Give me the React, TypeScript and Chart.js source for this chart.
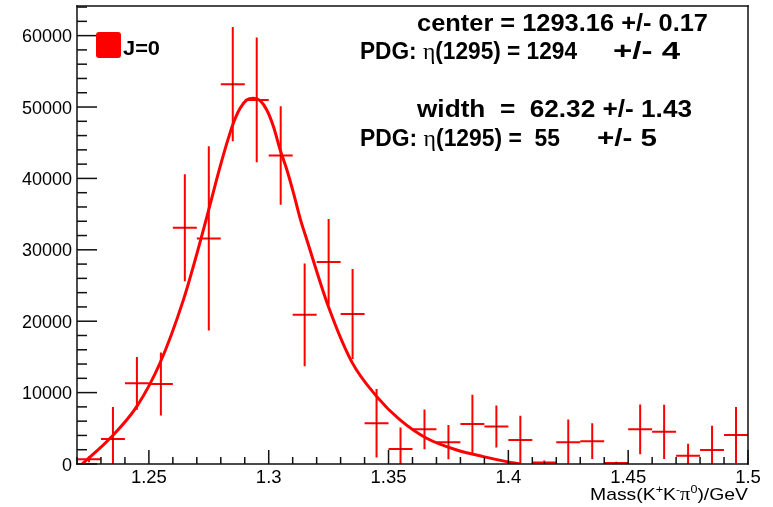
import React, { useEffect, useRef } from 'react';
import { Chart, registerables } from 'chart.js';

Chart.register(...registerables);

// ---------------- data ----------------
const binCenters = [
  1.225, 1.235, 1.245, 1.255, 1.265, 1.275, 1.285, 1.295, 1.305, 1.315,
  1.325, 1.335, 1.345, 1.355, 1.365, 1.375, 1.385, 1.395, 1.405, 1.415,
  1.425, 1.435, 1.445, 1.455, 1.465, 1.475, 1.485, 1.495,
];
const binCounts = [
  650, 3500, 11300, 11200, 33100, 31600, 53200, 51000, 43200, 20900,
  28300, 21000, 5700, 2100, 4850, 3050, 5600, 5250, 3350, 200,
  3050, 3200, 150, 4850, 4500, 1150, 1950, 4050,
];
const binErrors = [
  400, 4500, 3700, 4400, 7500, 12900, 8000, 8750, 6900, 7200,
  6000, 6300, 4800, 3000, 2800, 2400, 4100, 2950, 3400, 300,
  3200, 2500, 150, 3500, 3800, 1700, 3400, 3950,
];
const BIN_WIDTH = 0.01;

const fitMass = [
  1.2222, 1.2338, 1.2449, 1.2546, 1.2644, 1.2713, 1.2741, 1.2783, 1.2825, 1.2852,
  1.288, 1.2908, 1.2936, 1.2964, 1.2992, 1.302, 1.3048, 1.3076, 1.3103, 1.3131,
  1.3159, 1.3249, 1.3346, 1.3451, 1.3548, 1.3659, 1.3785, 1.3896, 1.3993, 1.405,
];
const fitCounts = [
  0, 3600, 8030, 14110, 22990, 31000, 34500, 39900, 44900, 47700,
  49800, 50980, 51220, 50880, 49580, 47240, 43980, 41180, 38000, 34410,
  31400, 22050, 14340, 9440, 6170, 3600, 1960, 1030, 330, 0,
];

const xMajorTicks = [1.25, 1.3, 1.35, 1.4, 1.45, 1.5];
const xTickLabels = ['1.25', '1.3', '1.35', '1.4', '1.45', '1.5'];
const yMajorTicks = [0, 10000, 20000, 30000, 40000, 50000, 60000];
const yTickLabels = ['0', '10000', '20000', '30000', '40000', '50000', '60000'];
const X_MIN = 1.22;
const X_MAX = 1.5;
const Y_MIN = 0;
const Y_MAX = 64150;
const X_MINOR_STEP = 0.01;
const Y_MINOR_STEP = 2000;

const legendLabel = 'J=0';
const statCenter = 'center = 1293.16 +/- 0.17';
const pdgMassLeft = '(1295) = 1294';
const pdgMassErr = '+/- 4';
const statWidth = 'width  =  62.32 +/- 1.43';
const pdgWidthLeft = '(1295) =  55';
const pdgWidthErr = '+/- 5';

// ---------------- drawing helpers ----------------
const SANS = '"Liberation Sans", Arial, Helvetica, sans-serif';
const SERIF = '"Liberation Serif", "Times New Roman", serif';
const BOLD = `bold 23px ${SANS}`;
const GREEK = `24px ${SERIF}`;

type Piece = { t: string; font: string; dy?: number };

function drawPieces(
  ctx: CanvasRenderingContext2D,
  pieces: Piece[],
  left: number,
  baseline: number,
  width: number
) {
  let total = 0;
  const ws = pieces.map((p) => {
    ctx.font = p.font;
    const w = ctx.measureText(p.t).width;
    total += w;
    return w;
  });
  const sx = width / total;
  ctx.save();
  ctx.translate(left, baseline);
  ctx.scale(sx, 1);
  ctx.textBaseline = 'alphabetic';
  ctx.textAlign = 'left';
  let cx = 0;
  pieces.forEach((p, i) => {
    ctx.font = p.font;
    ctx.fillText(p.t, cx, p.dy || 0);
    cx += ws[i];
  });
  ctx.restore();
}

function drawFrameAndTicks(chart: any) {
  const { ctx, chartArea: a } = chart;
  const xs = chart.scales.x;
  const ys = chart.scales.y;
  const W = 1.5;
  ctx.save();
  ctx.fillStyle = '#111';
  const L = a.left - W / 2;
  const Rr = a.right - W / 2;
  const T = a.top - W / 2;
  const B = a.bottom - W / 2;
  ctx.fillRect(L, T, Rr - L + W, W);
  ctx.fillRect(L, B, Rr - L + W, W);
  ctx.fillRect(L, T, W, B - T + W);
  ctx.fillRect(Rr, T, W, B - T + W);
  const nX = Math.round((X_MAX - X_MIN) / X_MINOR_STEP);
  for (let k = 0; k <= nX; k++) {
    const v = X_MIN + k * X_MINOR_STEP;
    const isMajor = xMajorTicks.some((m) => Math.abs(m - v) < 1e-6);
    const len = isMajor ? 14 : 7;
    const px = xs.getPixelForValue(v) - W / 2;
    ctx.fillRect(px, a.bottom - len, W, len);
  }
  const nY = Math.floor((Y_MAX - Y_MIN) / Y_MINOR_STEP);
  for (let k = 0; k <= nY; k++) {
    const v = Y_MIN + k * Y_MINOR_STEP;
    const isMajor = yMajorTicks.indexOf(v) >= 0;
    const len = isMajor ? 20 : 10;
    const py = ys.getPixelForValue(v) - W / 2;
    ctx.fillRect(a.left, py, len, W);
  }
  ctx.restore();
}

const rootPlugin = {
  id: 'rootStyle',
  beforeDatasetsDraw(chart: any) {
    const { ctx } = chart;
    const xs = chart.scales.x;
    const ys = chart.scales.y;
    ctx.save();
    ctx.strokeStyle = '#ff0000';
    ctx.lineWidth = 2;
    binCenters.forEach((c, i) => {
      const v = binCounts[i];
      const e = binErrors[i];
      const px = xs.getPixelForValue(c);
      const x0 = xs.getPixelForValue(c - BIN_WIDTH / 2);
      const x1 = xs.getPixelForValue(c + BIN_WIDTH / 2);
      const py = ys.getPixelForValue(v);
      const lo = Math.max(v - e, Y_MIN);
      const hi = Math.min(v + e, Y_MAX);
      ctx.beginPath();
      ctx.moveTo(x0, py);
      ctx.lineTo(x1, py);
      if (e > 0) {
        ctx.moveTo(px, ys.getPixelForValue(hi));
        ctx.lineTo(px, ys.getPixelForValue(lo));
      }
      ctx.stroke();
    });
    ctx.restore();
  },
  afterDraw(chart: any) {
    const { ctx, chartArea: a } = chart;
    const xs = chart.scales.x;
    const ys = chart.scales.y;
    drawFrameAndTicks(chart);
    ctx.save();
    ctx.fillStyle = '#000';
    ctx.font = `18.5px ${SANS}`;
    ctx.textBaseline = 'alphabetic';
    ctx.textAlign = 'center';
    xMajorTicks.forEach((v, i) => {
      ctx.fillText(xTickLabels[i], xs.getPixelForValue(v), a.bottom + 19);
    });
    ctx.textAlign = 'right';
    ctx.font = `18px ${SANS}`;
    yMajorTicks.forEach((v, i) => {
      ctx.fillText(yTickLabels[i], a.left - 5, ys.getPixelForValue(v) + 6.5);
    });

    const RF = `17px ${SANS}`;
    const SF = `11px ${SANS}`;
    drawPieces(
      ctx,
      [
        { t: 'Mass(K', font: RF },
        { t: '+', font: SF, dy: -7 },
        { t: 'K', font: RF },
        { t: '-', font: SF, dy: -7 },
        { t: 'π', font: `18px ${SERIF}` },
        { t: '0', font: SF, dy: -7 },
        { t: ')/GeV', font: RF },
      ],
      a.right - 158,
      a.bottom + 36,
      158
    );

    ctx.fillStyle = '#ff0000';
    const lx = a.left + 19;
    const ly = a.top + 26;
    ctx.beginPath();
    if ((ctx as any).roundRect) (ctx as any).roundRect(lx, ly, 25, 26, 3);
    else ctx.rect(lx, ly, 25, 26);
    ctx.fill();
    ctx.fillStyle = '#000';
    drawPieces(ctx, [{ t: legendLabel, font: `bold 20px ${SANS}` }], lx + 27, a.top + 49, 37);

    drawPieces(ctx, [{ t: statCenter, font: BOLD }], 417, a.top + 25, 291);
    drawPieces(
      ctx,
      [
        { t: 'PDG: ', font: BOLD },
        { t: 'η', font: GREEK },
        { t: pdgMassLeft, font: BOLD },
      ],
      360,
      a.top + 53,
      217
    );
    drawPieces(ctx, [{ t: pdgMassErr, font: BOLD }], 613, a.top + 53, 67);
    drawPieces(ctx, [{ t: statWidth, font: BOLD }], 417, a.top + 111, 275);
    drawPieces(
      ctx,
      [
        { t: 'PDG: ', font: BOLD },
        { t: 'η', font: GREEK },
        { t: pdgWidthLeft, font: BOLD },
      ],
      360,
      a.top + 140,
      200
    );
    drawPieces(ctx, [{ t: pdgWidthErr, font: BOLD }], 597, a.top + 140, 60);
    ctx.restore();
  },
};

export default function App() {
  const canvasRef = useRef<HTMLCanvasElement | null>(null);

  useEffect(() => {
    document.body.style.margin = '0';
    const canvas = canvasRef.current;
    if (!canvas) return;
    const chart = new Chart(canvas, {
      type: 'scatter',
      data: {
        datasets: [
          {
            type: 'line',
            label: 'fit',
            data: fitMass.map((m, i) => ({ x: m, y: fitCounts[i] })),
            borderColor: '#ff0000',
            backgroundColor: '#ff0000',
            borderWidth: 3,
            pointRadius: 0,
            fill: false,
            cubicInterpolationMode: 'monotone',
          } as any,
          {
            type: 'scatter',
            label: legendLabel,
            data: binCenters.map((c, i) => ({ x: c, y: binCounts[i] })),
            pointRadius: 0.6,
            pointBackgroundColor: '#000',
            pointBorderWidth: 0,
          } as any,
        ],
      },
      options: {
        responsive: false,
        animation: false,
        devicePixelRatio: 1,
        events: [],
        layout: { padding: { left: 77, right: 25, top: 6, bottom: 43 } },
        scales: {
          x: { type: 'linear', min: X_MIN, max: X_MAX, display: false },
          y: { type: 'linear', min: Y_MIN, max: Y_MAX, display: false },
        },
        plugins: { legend: { display: false }, tooltip: { enabled: false } },
      },
      plugins: [rootPlugin],
    });
    return () => chart.destroy();
  }, []);

  return (
    <div style={{ width: 773, height: 507, background: '#fff' }}>
      <canvas ref={canvasRef} width={773} height={507} style={{ display: 'block' }} />
    </div>
  );
}
